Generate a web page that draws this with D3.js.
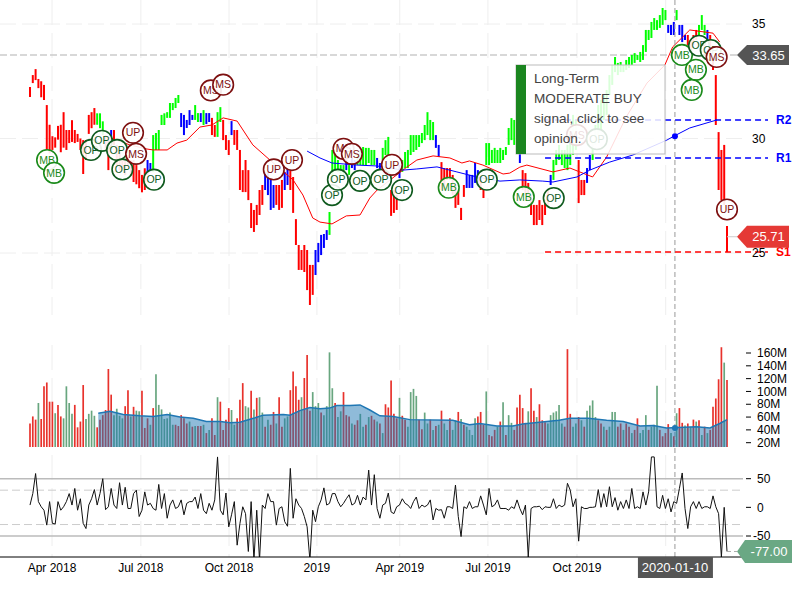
<!DOCTYPE html>
<html><head><meta charset="utf-8">
<script src="https://cdn.jsdelivr.net/npm/d3@7/dist/d3.min.js"></script>
<style>html,body{margin:0;padding:0;background:#fff}svg{display:block}text{font-family:"Liberation Sans",Arial,sans-serif}</style>
</head><body><svg id="c" width="800" height="600"></svg>
<script>
const priceHigh=[32.25,32.77,33.03,32.6,32.5,32.34,31.46,30.6,30.1,30.05,
30.55,30.6,31.15,30.37,30.37,30.8,30.37,30.2,30.0,29.93,
29.93,31.03,31.15,31.33,31.1,31.1,30.75,30.15,29.93,30.37,
30.37,29.72,29.5,29.15,29.06,29.28,29.06,29.06,28.84,28.62,
28.41,28.7,29.06,28.93,30.15,30.24,30.37,31.03,31.1,31.15,
31.55,31.55,31.77,31.9,31.11,31.03,30.81,31.24,31.03,31.46,
31.11,31.11,31.24,31.11,31.11,30.9,30.59,31.15,31.37,30.81,
30.15,29.93,30.76,30.37,30.37,29.5,28.62,29.06,28.62,27.18,
26.88,27.1,27.75,27.97,28.54,28.54,28.28,27.97,27.97,27.97,
28.19,28.54,28.71,28.62,28.32,26.48,25.35,25.13,25.35,25.13,
24.48,24.48,25.13,25.44,25.79,25.83,26.0,26.79,29.5,29.28,
29.06,28.84,28.84,29.06,28.84,29.15,29.06,29.28,29.5,29.63,
29.59,29.59,29.5,29.5,29.15,28.93,29.59,29.93,30.07,27.75,
27.75,27.53,28.84,29.06,29.41,29.5,30.15,30.15,30.15,30.15,
30.24,30.59,31.15,30.81,30.72,30.15,29.72,28.97,28.71,28.71,
28.71,28.41,27.97,27.75,26.97,27.97,28.62,28.41,28.41,28.93,
28.62,28.27,27.84,29.8,29.8,29.5,29.59,29.5,29.59,29.5,
29.63,30.46,30.89,30.81,31.03,29.37,28.62,28.49,28.06,27.53,
27.1,27.1,27.31,27.1,27.31,27.75,28.41,29.06,29.5,29.72,
29.5,29.5,29.72,29.93,31.03,30.81,29.06,28.19,28.19,28.71,
29.28,29.93,30.59,31.46,31.68,31.9,32.12,32.77,33.21,33.56,
33.3,33.34,33.21,33.43,33.56,33.65,33.73,33.65,33.78,34.08,
34.74,34.74,35.09,35.26,35.17,35.39,35.7,35.61,34.96,34.96,
35.09,35.61,34.96,34.96,34.52,34.52,34.3,34.52,34.74,34.96,
35.39,34.96,34.74,34.52,33.65,32.77,30.28,29.5,29.72,26.18];
const priceLow=[31.81,32.42,32.55,32.2,31.8,31.68,29.5,29.35,29.5,29.6,
29.95,29.4,29.6,29.5,29.8,29.85,29.8,29.85,29.5,28.45,
29.06,30.2,30.45,30.6,30.6,30.45,30.15,29.5,28.62,29.93,
29.72,28.84,28.62,28.7,28.41,28.84,28.41,28.1,28.0,27.83,
27.65,27.75,28.41,28.53,28.53,29.5,29.5,30.59,30.59,30.9,
30.9,31.24,31.33,31.55,30.5,30.15,30.46,30.59,30.81,30.81,
30.72,30.72,30.59,30.63,30.72,30.15,30.07,30.07,30.72,29.93,
29.5,29.28,30.15,29.72,29.5,27.75,27.66,27.66,27.31,26.09,
25.92,26.22,26.66,27.1,27.75,27.53,26.88,26.97,27.1,26.88,
26.97,27.75,27.97,27.75,26.75,25.35,24.26,24.26,24.17,23.38,
22.73,23.17,24.04,24.6,24.91,25.22,25.57,25.79,28.19,28.62,
28.54,28.41,28.27,28.62,28.41,28.71,28.62,28.84,28.84,28.84,
28.84,28.93,28.84,28.84,28.71,28.62,29.06,29.28,29.28,26.62,
26.75,26.88,28.27,28.54,28.71,28.71,29.28,29.41,29.5,29.63,
29.8,29.93,30.15,29.93,29.93,29.59,29.19,27.75,27.75,28.19,
28.19,27.53,26.97,27.1,26.44,27.45,27.84,27.84,27.84,28.06,
27.97,27.75,27.4,28.84,28.84,28.93,28.93,28.93,28.93,29.06,
29.28,29.72,29.93,29.72,29.5,28.93,27.75,27.53,27.31,26.66,
26.22,26.22,26.44,26.22,26.66,27.1,27.97,28.19,28.84,29.06,
28.84,28.71,28.62,28.84,29.28,29.5,27.18,27.53,27.53,28.06,
28.62,29.06,29.72,30.15,30.37,30.81,31.03,31.9,32.34,32.9,
32.77,32.9,32.9,32.99,33.08,33.21,33.3,33.43,33.34,33.43,
33.78,34.3,34.39,34.74,34.74,34.83,34.96,35.17,34.61,34.52,
34.52,35.17,34.52,34.21,34.3,34.08,33.86,34.08,34.3,34.52,
34.74,34.52,34.3,33.86,32.99,30.59,27.75,27.31,27.1,25.04];
const stateNames=["r","g","r","b","r","b","g","b","g","b","g","b","r","g","r","b","r","b","r","b","r","b","g","b","g","b","g","b","g","r","b","g","b","r","b","r","g","b","r","b","g","r","b","g","b","g","b","r","g","b","r"];
const stateCounts=[24,3,2,1,12,2,10,5,2,1,1,2,2,2,3,1,11,4,3,2,9,5,6,1,1,2,7,2,3,3,1,12,2,9,5,2,12,1,10,1,9,3,2,27,3,1,3,4,3,1,7];

const volume=[50,61,56,82,57,108,114,84,84,66,79,61,58,108,82,65,79,44,53,110,
57,65,70,62,44,56,63,71,135,95,63,73,62,58,77,102,61,76,70,69,
101,43,58,48,74,127,79,72,57,58,67,48,48,46,63,58,50,53,45,46,
46,46,48,35,40,58,32,91,84,40,56,74,71,48,58,87,113,77,75,101,
72,90,91,67,45,56,48,68,50,91,45,58,61,102,131,108,87,91,121,157,
70,99,77,82,67,63,77,161,105,82,60,69,99,63,61,50,48,55,65,45,
48,60,62,56,53,50,35,80,75,117,65,58,90,62,56,45,99,104,93,56,
41,67,50,56,40,46,48,70,50,40,58,40,55,68,57,48,45,40,32,58,
61,68,48,100,32,30,40,45,53,83,32,63,51,40,75,95,74,51,69,105,
70,60,80,55,52,50,63,67,69,79,50,45,166,65,45,50,60,55,45,70,
78,86,60,55,50,45,40,45,68,68,45,50,40,50,45,35,40,58,35,40,
63,40,45,48,109,40,30,35,49,35,30,66,74,51,47,50,45,56,53,55,
32,45,35,40,76,89,119,169,145,118];
const volumeUp=["r","r","r","g","r","r","r","r","r","g","r","r","g","g","g","g","r","r","r","r",
"g","g","g","g","r","r","r","r","r","r","g","g","g","g","r","r","g","r","g","g",
"r","r","r","g","r","g","g","g","g","g","g","g","r","r","r","r","r","g","r","g",
"r","r","g","r","g","r","r","g","r","r","r","r","g","g","r","r","r","g","g","r",
"g","r","g","g","r","g","r","r","g","r","r","g","g","r","r","r","r","g","r","r",
"r","g","g","g","r","g","g","g","g","r","g","g","r","r","r","g","r","r","g","g",
"r","g","r","r","g","r","g","r","r","r","r","r","g","r","r","g","g","g","g","r",
"r","g","g","r","g","r","g","r","g","g","r","g","g","r","g","r","g","g","g","g",
"r","r","r","g","r","r","r","g","r","g","r","g","g","r","r","r","r","r","g","r",
"r","g","r","r","r","g","g","g","g","g","g","r","r","r","g","g","r","g","r","g",
"g","g","g","r","r","g","r","g","g","g","r","r","g","r","r","g","r","r","g","g",
"g","r","g","g","g","r","r","r","r","g","r","g","r","r","g","r","g","r","g","r",
"g","r","g","r","r","r","r","r","g","r"];
const volAvgIdx=[24.4,28.6,33.3,39.3,44,49,53.6,58.3,63,68,71.4,75,79.8,83.3,90.5,92.9,96.4,100,103.6,107,109.6,114.3,117.9,121.4,125,129.8,135.7,151,157,160.7,166.8,172.5,176,182,189,192.9,199.4,206,211.9,217.9,222.7,227.4,238.1,242.9,246.4,249];
const volAvgVal=[66,69,64,62,61,64,60,58,53,53,51,52,58,63,64,63,70,75,73,74,78,78,79,71,62,61,56,55,48,50,46,46,49,52,55,58,58,55,53,46,47,43,45,43,50,56];

const cci=[4,24,59,10,1,-5,-31,10,-28,-29,10,-5,1,10,24,4,33,-5,15,-28,
-37,4,15,31,4,24,50,-4,1,33,4,-2,43,4,35,-2,-2,24,30,-16,
-5,27,4,7,-2,-5,40,-2,24,-19,4,13,-2,1,13,-13,7,10,10,18,
-2,24,-5,-11,7,-5,13,88,-5,-13,25,-34,-13,10,-66,-28,1,-11,-77,10,
-92,-5,-92,4,-2,24,10,10,-31,-2,1,-25,-33,68,-19,15,4,-2,-16,-34,
-92,-5,-25,1,13,34,4,7,24,24,10,1,7,15,22,4,7,21,4,18,
13,65,4,57,-2,-19,4,7,25,-8,-11,1,4,15,7,4,-2,10,18,-2,
4,1,4,13,-22,-2,-5,-4,-19,1,1,-2,39,-16,-51,1,-2,10,-2,1,
1,20,4,-13,33,1,4,13,-2,-2,-2,-5,1,-2,13,-2,-13,4,-87,-2,
1,1,2,-4,1,0,0,15,-2,4,1,4,42,30,1,15,-59,1,-2,-2,
0,0,1,31,0,24,1,36,1,17,-5,10,-2,13,-2,33,-2,1,-2,27,
4,27,88,88,1,-2,21,-2,15,-8,10,7,33,60,-2,-37,1,10,-2,10,
-2,1,1,-2,20,1,-11,-87,0,-77];

const priceTicks=[35,30,25];
const volumeTicks=[20,40,60,80,100,120,140,160];
const cciTicks=[50,0,-50];
const timeTickIdx=[7.86,39.6,71.1,102.5,132.1,163.6,195.4];
const timeTickLabels=["Apr 2018","Jul 2018","Oct 2018","2019","Apr 2019","Jul 2019","Oct 2019"];
const gridExtraIdx=[227.1];
const crossIdx=230.4, crossDate="2020-01-10";

const fastMaIdx=[26.8,35.7,41.8,44,49,52.5,56,60.7,65,69,74,79.6,85.7,94,97.5,101,103.6,107.9,113,117.9,121.4,124,134.6,138.2,144,150,154.3,157,161.8,169,171.4,175,177.5,186.8,192.9,196.4,201,206,213,220.4,226.8,229.6,235.7,244,246.4];
const fastMaVal=[30.11,29.72,29.54,29.5,29.5,29.8,29.93,30.5,30.59,30.9,30.76,29.72,29.06,28.19,27.53,26.53,26.35,26.27,26.62,26.66,27.4,27.75,28.75,29.06,29.24,29.15,28.93,29.02,28.84,28.45,28.49,28.75,28.84,28.54,28.71,28.54,28.32,29.19,30.94,32.42,33.21,34.0,34.74,34.6,34.21];
const slowMaIdx=[99,103.6,107.9,116.8,124,133.2,138.2,145.4,152.5,159.6,167.9,175,183.2,186.8,195.4,200,207.1,215.4,227.5,230,235.7,245.4];
const slowMaVal=[29.45,29.15,28.93,28.84,28.8,28.62,28.67,28.76,28.54,28.32,28.14,28.19,28.14,28.1,28.32,28.62,28.97,29.28,29.93,30.1,30.46,30.81];

const levelNames=["R2","R1","S1"];
const levelValues=[30.81,29.15,25.04];
const levelColours=["#0000ff","#0000ff","#ff0000"];

const signalKind=["MB","MB","OP","OP","OP","OP","UP","MS","OP","MS","MS","UP","UP","OP","OP","MS","MS","OP","OP","UP","OP","MB","OP","MB","OP","MS","OP","MB","OP","MB","MB","OP","MS","UP"];
const signalIdx=[6.1,8.6,21.8,25.7,31.1,33,36.8,37.9,44.3,64.6,69,87.1,93.6,107.9,110,112,115,117.9,125.4,129.3,132.9,149.6,163.2,176.4,187.1,195.4,202.5,232.9,239,237.9,236.4,243.2,245.3,249];
const signalPrice=[29.06,28.5,29.5,29.9,29.5,28.65,30.25,29.33,28.2,32.1,32.35,28.65,29.06,27.53,28.2,29.55,29.33,28.15,28.2,28.85,27.75,27.85,28.2,27.45,27.4,30.15,29.97,33.65,34.05,33.0,32.12,33.86,33.56,26.9];
const lastPrice=33.65, closePrice=25.71, lastCci=-77;

const svg=d3.select("#c");
const x=d3.scaleLinear().domain([0,249]).range([30,727]);
const y=d3.scaleLinear().domain([35,25]).range([24,253]);
const yV=d3.scaleLinear().domain([0,160]).range([455.5,353]);
const yC=d3.scaleLinear().domain([50,-50]).range([478.7,536]);
const RIGHT=743;

const defs=svg.append("defs");
defs.append("clipPath").attr("id","volClip").append("rect").attr("x",0).attr("y",340).attr("width",800).attr("height",107);
defs.append("clipPath").attr("id","cciClip").append("rect").attr("x",0).attr("y",455).attr("width",800).attr("height",102);

const gridIdx=timeTickIdx.concat(gridExtraIdx);
const panes=[[0,315],[345,447],[455,557]];
panes.forEach(p=>{
  svg.append("g").selectAll("line").data(gridIdx).join("line")
    .attr("x1",d=>x(d)).attr("x2",d=>x(d)).attr("y1",p[0]).attr("y2",p[1])
    .attr("stroke","#eee").attr("stroke-width",1).attr("stroke-dasharray","25,8");
});
svg.append("g").selectAll("line").data(priceTicks).join("line")
  .attr("x1",0).attr("x2",RIGHT).attr("y1",d=>y(d)).attr("y2",d=>y(d))
  .attr("stroke","#eee").attr("stroke-width",1).attr("stroke-dasharray","16,6");

svg.append("line").attr("x1",0).attr("x2",737).attr("y1",y(lastPrice)).attr("y2",y(lastPrice))
  .attr("stroke","#ccc").attr("stroke-width",1.5).attr("stroke-dasharray","7,3");

const states=[];
stateNames.forEach((s,i)=>{for(let k=0;k<stateCounts[i];k++)states.push(s)});
const stateColour={r:"#ff0000",g:"#00ff00",b:"#0000ff"};
svg.append("g").selectAll("line").data(priceHigh).join("line")
  .attr("x1",(d,i)=>x(i)).attr("x2",(d,i)=>x(i))
  .attr("y1",d=>y(d)).attr("y2",(d,i)=>y(priceLow[i]))
  .attr("stroke",(d,i)=>stateColour[states[i]]).attr("stroke-width",2);

const lineOf=(xs,vs,sc)=>d3.line().x(d=>x(d)).y((d,i)=>sc(vs[i]))(xs);
svg.append("path").attr("d",lineOf(fastMaIdx,fastMaVal,y)).attr("fill","none").attr("stroke","#ff0000").attr("stroke-width",1);
svg.append("path").attr("d",lineOf(slowMaIdx,slowMaVal,y)).attr("fill","none").attr("stroke","#0000ff").attr("stroke-width",1);

svg.append("line").attr("x1",x(crossIdx)).attr("x2",x(crossIdx)).attr("y1",0).attr("y2",557)
  .attr("stroke","#999").attr("stroke-width",1).attr("stroke-dasharray","5,3");
svg.append("circle").attr("cx",x(crossIdx)).attr("cy",y(30.1)).attr("r",3).attr("fill","#0000ff");

levelNames.forEach((n,i)=>{
  svg.append("line").attr("x1",x(184)).attr("x2",768).attr("y1",y(levelValues[i])).attr("y2",y(levelValues[i]))
    .attr("stroke",levelColours[i]).attr("stroke-width",1.5).attr("stroke-dasharray","6,4");
});

const kindStyle={MB:"#1a8a1a",OP:"#0f5a1e",MS:"#7d1010",UP:"#7d1010"};
const sig=svg.append("g").selectAll("g").data(signalKind).join("g")
  .attr("transform",(d,i)=>`translate(${x(signalIdx[i])},${y(signalPrice[i])})`);
sig.append("circle").attr("r",10.3).attr("fill","#fff").attr("fill-opacity",0.9)
  .attr("stroke",d=>kindStyle[d]).attr("stroke-width",1.6);
sig.append("text").text(d=>d).attr("text-anchor","middle").attr("dy","0.35em")
  .attr("font-size",10.5).attr("fill",d=>kindStyle[d]);

svg.append("rect").attr("x",516).attr("y",65).attr("width",149).attr("height",89)
  .attr("fill","#fff").attr("fill-opacity",0.85).attr("stroke","#bbb").attr("stroke-width",1);
svg.append("rect").attr("x",516).attr("y",65).attr("width",10).attr("height",89).attr("fill","#1a851f");
const panelLines=["Long-Term","MODERATE BUY","signal, click to see","opinion."];
svg.append("g").selectAll("text").data(panelLines).join("text").text(d=>d)
  .attr("x",534).attr("y",(d,i)=>83+20*i).attr("font-size",13.6).attr("fill","#444");

levelNames.forEach((n,i)=>{
  svg.append("text").text(n).attr("x",776).attr("y",y(levelValues[i])).attr("dy","0.35em")
    .attr("font-size",12).attr("font-weight","bold").attr("fill",levelColours[i]);
});

const vg=svg.append("g").attr("clip-path","url(#volClip)");
vg.selectAll("line").data(volume).join("line")
  .attr("x1",(d,i)=>x(i)).attr("x2",(d,i)=>x(i)).attr("y1",d=>yV(d)).attr("y2",yV(0))
  .attr("stroke",(d,i)=>volumeUp[i]==="r"?"#e8322c":"#68a67f").attr("stroke-width",1.7);
const area=d3.area().x(d=>x(d)).y0(yV(0)).y1((d,i)=>yV(volAvgVal[i]));
vg.append("path").attr("d",area(volAvgIdx)).attr("fill","#1f77b4").attr("fill-opacity",0.5);
vg.append("path").attr("d",lineOf(volAvgIdx,volAvgVal,yV)).attr("fill","none").attr("stroke","#1f77b4").attr("stroke-width",1.5);
svg.append("circle").attr("cx",x(crossIdx)).attr("cy",yV(43)).attr("r",3).attr("fill","#1f77b4");
const volAxis=svg.append("g");
volumeTicks.forEach(t=>{
  volAxis.append("line").attr("x1",746).attr("x2",751).attr("y1",yV(t)).attr("y2",yV(t)).attr("stroke","#000");
  volAxis.append("text").text(t+"M").attr("x",757).attr("y",yV(t)).attr("dy","0.35em").attr("font-size",12).attr("fill","#000");
});

svg.append("g").selectAll("text").data(priceTicks).join("text").text(d=>d)
  .attr("x",752).attr("y",d=>y(d)).attr("dy","0.35em").attr("font-size",12).attr("fill","#000");

[50,-50].forEach(v=>svg.append("line").attr("x1",0).attr("x2",RIGHT).attr("y1",yC(v)).attr("y2",yC(v)).attr("stroke","#bbb").attr("stroke-width",1.5));
[30,-30].forEach(v=>svg.append("line").attr("x1",0).attr("x2",RIGHT).attr("y1",yC(v)).attr("y2",yC(v)).attr("stroke","#ccc").attr("stroke-width",1).attr("stroke-dasharray","8,4"));
const cg=svg.append("g").attr("clip-path","url(#cciClip)");
cg.append("path").attr("d",d3.line().x((d,i)=>x(i)).y(d=>yC(d))(cci)).attr("fill","none").attr("stroke","#111").attr("stroke-width",1);
const cciAxis=svg.append("g");
cciTicks.forEach(t=>{
  cciAxis.append("line").attr("x1",746).attr("x2",751).attr("y1",yC(t)).attr("y2",yC(t)).attr("stroke","#000");
  cciAxis.append("text").text(t).attr("x",t<0?753:757).attr("y",yC(t)).attr("dy","0.35em").attr("font-size",12).attr("fill","#000");
});

svg.append("line").attr("x1",0).attr("x2",RIGHT).attr("y1",557).attr("y2",557).attr("stroke","#000").attr("stroke-width",1);
svg.append("g").selectAll("text").data(timeTickLabels).join("text").text(d=>d)
  .attr("x",(d,i)=>x(timeTickIdx[i])).attr("y",572).attr("text-anchor","middle").attr("font-size",12).attr("fill","#000");
svg.append("rect").attr("x",x(crossIdx)-37).attr("y",557).attr("width",75).attr("height",21).attr("fill","#555");
svg.append("text").text(crossDate).attr("x",x(crossIdx)).attr("y",572).attr("text-anchor","middle").attr("font-size",13).attr("fill","#fff");

function flag(cy,h,colour,label,xl,xr){
  const pts=[[737,cy],[xl,cy-h/2],[xr,cy-h/2],[xr,cy+h/2],[xl,cy+h/2]];
  svg.append("polygon").attr("points",pts.join(" ")).attr("fill",colour);
  svg.append("text").text(label).attr("x",(xl+xr)/2+0.5).attr("y",cy).attr("dy","0.36em").attr("text-anchor","middle").attr("font-size",13).attr("fill","#fff");
}
svg.append("line").attr("x1",x(249)).attr("x2",737).attr("y1",y(closePrice)).attr("y2",y(closePrice)).attr("stroke","#ccc");
svg.append("line").attr("x1",x(249)).attr("x2",737).attr("y1",yC(lastCci)).attr("y2",yC(lastCci)).attr("stroke","#aaa").attr("stroke-dasharray","4,3");
flag(y(lastPrice),20,"#555",lastPrice.toFixed(2),747,789);
flag(y(closePrice),22,"#e53935",closePrice.toFixed(2),747,789);
flag(yC(lastCci),23,"#6aa884",lastCci.toFixed(2),745,792);
</script></body></html>
